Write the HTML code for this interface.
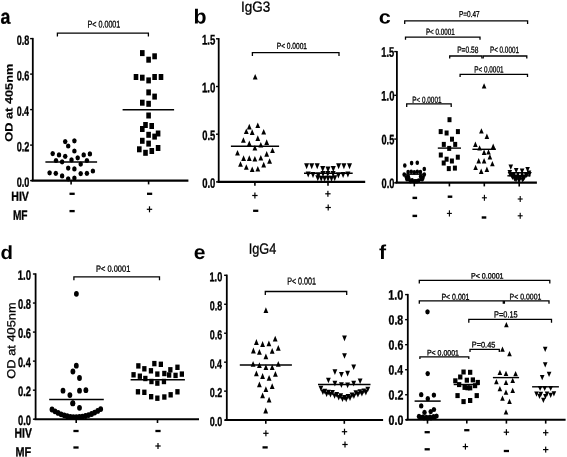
<!DOCTYPE html>
<html><head><meta charset="utf-8"><style>
html,body{margin:0;padding:0;background:#fff;}
svg{display:block;will-change:transform;}
text{font-family:"Liberation Sans", sans-serif;fill:#000;text-rendering:geometricPrecision;}
</style></head><body>
<svg width="567" height="457" viewBox="0 0 567 457">
<rect width="567" height="457" fill="#fff"/>
<g id="t0">
<text transform="translate(0.52,23.74) rotate(0.05) scale(0.8567,1.0000)" font-size="20.73" font-weight="bold" stroke="#000" stroke-width="0.3">a</text>
</g>
<g id="t1">
<text transform="translate(12.59,141.71) rotate(-89.95) scale(1.0000,0.8377)" font-size="12.78" font-weight="bold" stroke="#000" stroke-width="0.2">OD at 405nm</text>
</g>
<line x1="32.80" y1="37.90" x2="32.80" y2="180.60" stroke="#000" stroke-width="1.8" stroke-linecap="butt"/>
<line x1="30.10" y1="38.60" x2="32.80" y2="38.60" stroke="#000" stroke-width="1.4" stroke-linecap="butt"/>
<g id="t2">
<text transform="translate(16.71,44.64) rotate(0.05) scale(0.6731,1.0000)" font-size="13.45" font-weight="bold" stroke="#000" stroke-width="0.35">0.8</text>
</g>
<line x1="30.10" y1="74.10" x2="32.80" y2="74.10" stroke="#000" stroke-width="1.4" stroke-linecap="butt"/>
<g id="t3">
<text transform="translate(16.71,80.14) rotate(0.05) scale(0.6756,1.0000)" font-size="13.45" font-weight="bold" stroke="#000" stroke-width="0.35">0.6</text>
</g>
<line x1="30.10" y1="109.60" x2="32.80" y2="109.60" stroke="#000" stroke-width="1.4" stroke-linecap="butt"/>
<g id="t4">
<text transform="translate(16.72,115.64) rotate(0.05) scale(0.6605,1.0000)" font-size="13.45" font-weight="bold" stroke="#000" stroke-width="0.35">0.4</text>
</g>
<line x1="30.10" y1="145.10" x2="32.80" y2="145.10" stroke="#000" stroke-width="1.4" stroke-linecap="butt"/>
<g id="t5">
<text transform="translate(16.71,151.14) rotate(0.05) scale(0.6782,1.0000)" font-size="13.45" font-weight="bold" stroke="#000" stroke-width="0.35">0.2</text>
</g>
<line x1="30.10" y1="180.60" x2="32.80" y2="180.60" stroke="#000" stroke-width="1.4" stroke-linecap="butt"/>
<g id="t6">
<text transform="translate(16.71,186.64) rotate(0.05) scale(0.6782,1.0000)" font-size="13.45" font-weight="bold" stroke="#000" stroke-width="0.35">0.0</text>
</g>
<line x1="31.50" y1="180.60" x2="188.40" y2="180.60" stroke="#000" stroke-width="2.4" stroke-linecap="butt"/>
<line x1="71.10" y1="180.60" x2="71.10" y2="184.40" stroke="#000" stroke-width="1.6" stroke-linecap="butt"/>
<line x1="148.60" y1="180.60" x2="148.60" y2="184.40" stroke="#000" stroke-width="1.6" stroke-linecap="butt"/>
<g id="t7">
<text transform="translate(11.26,200.75) rotate(0.05) scale(0.8123,1.0000)" font-size="13.04" font-weight="bold" stroke="#000" stroke-width="0.3">HIV</text>
</g>
<g id="t8">
<text transform="translate(12.89,219.65) rotate(0.05) scale(0.7557,1.0000)" font-size="13.48" font-weight="bold" stroke="#000" stroke-width="0.3">MF</text>
</g>
<rect x="69.50" y="192.65" width="5.2" height="2.3"/>
<rect x="69.50" y="209.95" width="5.2" height="2.3"/>
<rect x="147.00" y="192.65" width="5.2" height="2.3"/>
<rect x="146.80" y="208.70" width="5.4" height="1.2"/>
<rect x="148.90" y="206.30" width="1.2" height="6.0"/>
<path d="M57.40,36.50 V33.20 H148.40 V36.50" fill="none" stroke="#000" stroke-width="1.3"/>
<g id="t9">
<text transform="translate(87.48,27.55) rotate(0.05) scale(0.7368,1.0000)" font-size="9.72" font-weight="normal" stroke="#000" stroke-width="0.3">P&lt; 0.0001</text>
</g>
<ellipse cx="65.2" cy="141.6" rx="2.25" ry="2.6"/>
<ellipse cx="74.4" cy="140.8" rx="2.25" ry="2.6"/>
<ellipse cx="68.2" cy="146.0" rx="2.25" ry="2.6"/>
<ellipse cx="74.4" cy="151.0" rx="2.25" ry="2.6"/>
<ellipse cx="52.7" cy="153.6" rx="2.25" ry="2.6"/>
<ellipse cx="59.0" cy="154.9" rx="2.25" ry="2.6"/>
<ellipse cx="65.2" cy="156.3" rx="2.25" ry="2.6"/>
<ellipse cx="83.7" cy="154.9" rx="2.25" ry="2.6"/>
<ellipse cx="89.9" cy="153.9" rx="2.25" ry="2.6"/>
<ellipse cx="56.0" cy="160.5" rx="2.25" ry="2.6"/>
<ellipse cx="62.1" cy="161.8" rx="2.25" ry="2.6"/>
<ellipse cx="71.5" cy="159.9" rx="2.25" ry="2.6"/>
<ellipse cx="77.7" cy="157.8" rx="2.25" ry="2.6"/>
<ellipse cx="80.7" cy="164.1" rx="2.25" ry="2.6"/>
<ellipse cx="86.9" cy="160.5" rx="2.25" ry="2.6"/>
<ellipse cx="68.2" cy="168.1" rx="2.25" ry="2.6"/>
<ellipse cx="74.4" cy="168.9" rx="2.25" ry="2.6"/>
<ellipse cx="49.6" cy="172.8" rx="2.25" ry="2.6"/>
<ellipse cx="55.8" cy="173.3" rx="2.25" ry="2.6"/>
<ellipse cx="62.1" cy="175.9" rx="2.25" ry="2.6"/>
<ellipse cx="80.7" cy="173.6" rx="2.25" ry="2.6"/>
<ellipse cx="86.9" cy="173.3" rx="2.25" ry="2.6"/>
<ellipse cx="92.9" cy="171.0" rx="2.25" ry="2.6"/>
<ellipse cx="68.2" cy="178.8" rx="2.25" ry="2.6"/>
<ellipse cx="74.4" cy="178.1" rx="2.25" ry="2.6"/>
<line x1="45.40" y1="162.10" x2="97.10" y2="162.10" stroke="#000" stroke-width="1.5" stroke-linecap="butt"/>
<rect x="140.0" y="50.1" width="4.6" height="6.0"/>
<rect x="146.3" y="56.7" width="4.6" height="6.0"/>
<rect x="152.3" y="53.3" width="4.6" height="6.0"/>
<rect x="133.7" y="74.0" width="4.6" height="6.0"/>
<rect x="140.0" y="74.7" width="4.6" height="6.0"/>
<rect x="146.3" y="77.4" width="4.6" height="6.0"/>
<rect x="152.3" y="74.0" width="4.6" height="6.0"/>
<rect x="158.7" y="74.0" width="4.6" height="6.0"/>
<rect x="146.3" y="89.4" width="4.6" height="6.0"/>
<rect x="152.3" y="93.6" width="4.6" height="6.0"/>
<rect x="140.0" y="99.7" width="4.6" height="6.0"/>
<rect x="146.3" y="100.8" width="4.6" height="6.0"/>
<rect x="146.3" y="112.5" width="4.6" height="6.0"/>
<rect x="143.2" y="122.0" width="4.6" height="6.0"/>
<rect x="149.4" y="123.0" width="4.6" height="6.0"/>
<rect x="140.0" y="126.0" width="4.6" height="6.0"/>
<rect x="146.3" y="131.8" width="4.6" height="6.0"/>
<rect x="152.3" y="133.6" width="4.6" height="6.0"/>
<rect x="155.8" y="130.5" width="4.6" height="6.0"/>
<rect x="140.0" y="137.8" width="4.6" height="6.0"/>
<rect x="146.3" y="140.6" width="4.6" height="6.0"/>
<rect x="137.0" y="146.3" width="4.6" height="6.0"/>
<rect x="143.2" y="149.8" width="4.6" height="6.0"/>
<rect x="149.5" y="148.0" width="4.6" height="6.0"/>
<rect x="155.8" y="145.0" width="4.6" height="6.0"/>
<line x1="122.60" y1="109.70" x2="174.10" y2="109.70" stroke="#000" stroke-width="1.5" stroke-linecap="butt"/>
<g id="t10">
<text transform="translate(193.61,23.40) rotate(0.05) scale(1.0479,1.0000)" font-size="20.41" font-weight="bold">b</text>
</g>
<g id="t11">
<text transform="translate(241.04,11.76) rotate(0.05) scale(0.9166,1.0000)" font-size="14.73" font-weight="normal" stroke="#000" stroke-width="0.3">IgG3</text>
</g>
<line x1="218.70" y1="38.10" x2="218.70" y2="181.90" stroke="#000" stroke-width="1.8" stroke-linecap="butt"/>
<line x1="216.00" y1="38.80" x2="218.70" y2="38.80" stroke="#000" stroke-width="1.4" stroke-linecap="butt"/>
<g id="t12">
<text transform="translate(201.95,44.54) rotate(0.05) scale(0.6876,1.0000)" font-size="13.93" font-weight="bold" stroke="#000" stroke-width="0.35">1.5</text>
</g>
<line x1="216.00" y1="86.50" x2="218.70" y2="86.50" stroke="#000" stroke-width="1.4" stroke-linecap="butt"/>
<g id="t13">
<text transform="translate(201.95,92.24) rotate(0.05) scale(0.7055,1.0000)" font-size="13.73" font-weight="bold" stroke="#000" stroke-width="0.35">1.0</text>
</g>
<line x1="216.00" y1="134.20" x2="218.70" y2="134.20" stroke="#000" stroke-width="1.4" stroke-linecap="butt"/>
<g id="t14">
<text transform="translate(202.20,139.94) rotate(0.05) scale(0.6842,1.0000)" font-size="13.73" font-weight="bold" stroke="#000" stroke-width="0.35">0.5</text>
</g>
<line x1="216.00" y1="181.90" x2="218.70" y2="181.90" stroke="#000" stroke-width="1.4" stroke-linecap="butt"/>
<g id="t15">
<text transform="translate(202.19,187.64) rotate(0.05) scale(0.6921,1.0000)" font-size="13.73" font-weight="bold" stroke="#000" stroke-width="0.35">0.0</text>
</g>
<line x1="217.50" y1="181.90" x2="365.20" y2="181.90" stroke="#000" stroke-width="2.1" stroke-linecap="butt"/>
<line x1="254.90" y1="181.90" x2="254.90" y2="185.70" stroke="#000" stroke-width="1.6" stroke-linecap="butt"/>
<line x1="328.00" y1="181.90" x2="328.00" y2="185.70" stroke="#000" stroke-width="1.6" stroke-linecap="butt"/>
<rect x="252.20" y="194.90" width="5.4" height="1.2"/>
<rect x="254.30" y="192.50" width="1.2" height="6.0"/>
<rect x="253.10" y="209.65" width="5.2" height="2.3"/>
<rect x="325.20" y="193.20" width="5.4" height="1.2"/>
<rect x="327.30" y="190.80" width="1.2" height="6.0"/>
<rect x="325.50" y="206.90" width="5.4" height="1.2"/>
<rect x="327.60" y="204.50" width="1.2" height="6.0"/>
<path d="M252.40,56.00 V52.60 H339.00 V56.00" fill="none" stroke="#000" stroke-width="1.3"/>
<g id="t16">
<text transform="translate(276.72,48.86) rotate(0.05) scale(0.7707,1.0000)" font-size="8.59" font-weight="normal" stroke="#000" stroke-width="0.3">P&lt; 0.0001</text>
</g>
<path d="M255.2,74.0 L257.6,79.6 L252.8,79.6Z"/>
<path d="M249.3,123.8 L251.7,129.4 L246.9,129.4Z"/>
<path d="M257.8,122.5 L260.2,128.1 L255.4,128.1Z"/>
<path d="M246.3,128.4 L248.7,134.0 L243.9,134.0Z"/>
<path d="M252.2,129.3 L254.6,134.9 L249.8,134.9Z"/>
<path d="M263.7,129.0 L266.1,134.6 L261.3,134.6Z"/>
<path d="M243.4,137.2 L245.8,142.8 L241.0,142.8Z"/>
<path d="M257.8,135.3 L260.2,140.9 L255.4,140.9Z"/>
<path d="M249.3,140.6 L251.7,146.2 L246.9,146.2Z"/>
<path d="M266.7,139.3 L269.1,144.9 L264.3,144.9Z"/>
<path d="M254.9,145.0 L257.3,150.6 L252.5,150.6Z"/>
<path d="M260.8,141.9 L263.2,147.5 L258.4,147.5Z"/>
<path d="M272.5,147.4 L274.9,153.0 L270.1,153.0Z"/>
<path d="M237.5,150.0 L239.9,155.6 L235.1,155.6Z"/>
<path d="M266.7,151.1 L269.1,156.7 L264.3,156.7Z"/>
<path d="M243.6,155.3 L246.0,160.9 L241.2,160.9Z"/>
<path d="M249.3,155.3 L251.7,160.9 L246.9,160.9Z"/>
<path d="M254.9,155.9 L257.3,161.5 L252.5,161.5Z"/>
<path d="M260.8,155.0 L263.2,160.6 L258.4,160.6Z"/>
<path d="M269.6,158.2 L272.0,163.8 L267.2,163.8Z"/>
<path d="M240.5,161.2 L242.9,166.8 L238.1,166.8Z"/>
<path d="M246.3,164.2 L248.7,169.8 L243.9,169.8Z"/>
<path d="M263.7,161.8 L266.1,167.4 L261.3,167.4Z"/>
<path d="M252.2,166.4 L254.6,172.0 L249.8,172.0Z"/>
<path d="M257.8,166.0 L260.2,171.6 L255.4,171.6Z"/>
<line x1="230.90" y1="146.30" x2="279.10" y2="146.30" stroke="#000" stroke-width="1.5" stroke-linecap="butt"/>
<path d="M306.6,169.2 L309.1,163.2 L304.1,163.2Z"/>
<path d="M311.7,169.2 L314.2,163.2 L309.2,163.2Z"/>
<path d="M317.2,169.2 L319.7,163.2 L314.7,163.2Z"/>
<path d="M322.7,172.0 L325.2,166.0 L320.2,166.0Z"/>
<path d="M328.0,172.5 L330.5,166.5 L325.5,166.5Z"/>
<path d="M333.3,172.0 L335.8,166.0 L330.8,166.0Z"/>
<path d="M338.6,169.2 L341.1,163.2 L336.1,163.2Z"/>
<path d="M343.9,169.2 L346.4,163.2 L341.4,163.2Z"/>
<path d="M349.5,169.2 L352.0,163.2 L347.0,163.2Z"/>
<path d="M308.2,177.4 L310.7,171.4 L305.7,171.4Z"/>
<path d="M313.0,178.0 L315.5,172.0 L310.5,172.0Z"/>
<path d="M318.3,178.5 L320.8,172.5 L315.8,172.5Z"/>
<path d="M323.0,177.0 L325.5,171.0 L320.5,171.0Z"/>
<path d="M327.8,177.0 L330.3,171.0 L325.3,171.0Z"/>
<path d="M333.1,177.0 L335.6,171.0 L330.6,171.0Z"/>
<path d="M338.4,178.5 L340.9,172.5 L335.9,172.5Z"/>
<path d="M343.1,178.0 L345.6,172.0 L340.6,172.0Z"/>
<path d="M347.9,177.4 L350.4,171.4 L345.4,171.4Z"/>
<path d="M317.8,181.3 L320.3,175.3 L315.3,175.3Z"/>
<path d="M321.2,181.8 L323.7,175.8 L318.7,175.8Z"/>
<path d="M324.6,181.8 L327.1,175.8 L322.1,175.8Z"/>
<path d="M328.0,181.8 L330.5,175.8 L325.5,175.8Z"/>
<path d="M331.5,181.8 L334.0,175.8 L329.0,175.8Z"/>
<path d="M334.7,181.3 L337.2,175.3 L332.2,175.3Z"/>
<line x1="304.00" y1="173.20" x2="352.70" y2="173.20" stroke="#000" stroke-width="1.5" stroke-linecap="butt"/>
<g id="t17">
<text transform="translate(378.63,23.41) rotate(0.05) scale(1.1449,1.0000)" font-size="18.91" font-weight="bold">c</text>
</g>
<line x1="396.90" y1="50.90" x2="396.90" y2="182.80" stroke="#000" stroke-width="1.8" stroke-linecap="butt"/>
<line x1="394.20" y1="51.60" x2="396.90" y2="51.60" stroke="#000" stroke-width="1.4" stroke-linecap="butt"/>
<g id="t18">
<text transform="translate(381.27,56.84) rotate(0.05) scale(0.6710,1.0000)" font-size="13.93" font-weight="bold" stroke="#000" stroke-width="0.35">1.5</text>
</g>
<line x1="394.20" y1="95.33" x2="396.90" y2="95.33" stroke="#000" stroke-width="1.4" stroke-linecap="butt"/>
<g id="t19">
<text transform="translate(381.26,100.57) rotate(0.05) scale(0.6885,1.0000)" font-size="13.73" font-weight="bold" stroke="#000" stroke-width="0.35">1.0</text>
</g>
<line x1="394.20" y1="139.06" x2="396.90" y2="139.06" stroke="#000" stroke-width="1.4" stroke-linecap="butt"/>
<g id="t20">
<text transform="translate(381.51,144.30) rotate(0.05) scale(0.6678,1.0000)" font-size="13.73" font-weight="bold" stroke="#000" stroke-width="0.35">0.5</text>
</g>
<line x1="394.20" y1="182.79" x2="396.90" y2="182.79" stroke="#000" stroke-width="1.4" stroke-linecap="butt"/>
<g id="t21">
<text transform="translate(381.50,188.03) rotate(0.05) scale(0.6754,1.0000)" font-size="13.73" font-weight="bold" stroke="#000" stroke-width="0.35">0.0</text>
</g>
<line x1="395.50" y1="182.60" x2="536.90" y2="182.60" stroke="#000" stroke-width="2.1" stroke-linecap="butt"/>
<line x1="414.30" y1="182.60" x2="414.30" y2="186.40" stroke="#000" stroke-width="1.6" stroke-linecap="butt"/>
<line x1="449.40" y1="182.60" x2="449.40" y2="186.40" stroke="#000" stroke-width="1.6" stroke-linecap="butt"/>
<line x1="484.30" y1="182.60" x2="484.30" y2="186.40" stroke="#000" stroke-width="1.6" stroke-linecap="butt"/>
<line x1="519.20" y1="182.60" x2="519.20" y2="186.40" stroke="#000" stroke-width="1.6" stroke-linecap="butt"/>
<rect x="412.50" y="196.70" width="4.6" height="2.4"/>
<rect x="447.70" y="195.50" width="4.6" height="2.4"/>
<rect x="481.90" y="197.25" width="5" height="1.1"/>
<rect x="483.85" y="194.80" width="1.1" height="6"/>
<rect x="517.70" y="198.45" width="5" height="1.1"/>
<rect x="519.65" y="196.00" width="1.1" height="6"/>
<rect x="412.50" y="214.70" width="4.6" height="2.4"/>
<rect x="446.90" y="212.85" width="5" height="1.1"/>
<rect x="448.85" y="210.30" width="1.1" height="6.2"/>
<rect x="481.70" y="216.30" width="4.6" height="2.4"/>
<rect x="517.70" y="215.25" width="5" height="1.1"/>
<rect x="519.65" y="212.80" width="1.1" height="6"/>
<path d="M404.70,24.00 V20.90 H527.60 V24.00" fill="none" stroke="#000" stroke-width="1.3"/>
<g id="t22">
<text transform="translate(459.03,17.06) rotate(0.05) scale(0.7519,1.0000)" font-size="8.59" font-weight="normal" stroke="#000" stroke-width="0.3">P=0.47</text>
</g>
<path d="M405.50,39.70 V37.20 H480.00 V39.70" fill="none" stroke="#000" stroke-width="1.3"/>
<g id="t23">
<text transform="translate(425.95,34.76) rotate(0.05) scale(0.7172,1.0000)" font-size="8.73" font-weight="normal" stroke="#000" stroke-width="0.3">P&lt; 0.0001</text>
</g>
<path d="M449.70,58.40 V56.00 H481.90 V58.40" fill="none" stroke="#000" stroke-width="1.3"/>
<g id="t24">
<text transform="translate(457.22,52.86) rotate(0.05) scale(0.7324,1.0000)" font-size="9.01" font-weight="normal" stroke="#000" stroke-width="0.3">P=0.58</text>
</g>
<path d="M483.20,58.40 V56.00 H526.80 V58.40" fill="none" stroke="#000" stroke-width="1.3"/>
<g id="t25">
<text transform="translate(489.94,52.86) rotate(0.05) scale(0.7022,1.0000)" font-size="9.01" font-weight="normal" stroke="#000" stroke-width="0.3">P&lt; 0.0001</text>
</g>
<path d="M460.10,76.90 V74.30 H527.50 V76.90" fill="none" stroke="#000" stroke-width="1.3"/>
<g id="t26">
<text transform="translate(474.34,72.46) rotate(0.05) scale(0.7047,1.0000)" font-size="9.01" font-weight="normal" stroke="#000" stroke-width="0.3">P&lt; 0.0001</text>
</g>
<path d="M406.70,107.00 V103.80 H451.20 V107.00" fill="none" stroke="#000" stroke-width="1.3"/>
<g id="t27">
<text transform="translate(412.34,102.66) rotate(0.05) scale(0.7275,1.0000)" font-size="8.73" font-weight="normal" stroke="#000" stroke-width="0.3">P&lt; 0.0001</text>
</g>
<ellipse cx="404.8" cy="165.5" rx="1.8" ry="2.3"/>
<ellipse cx="411.6" cy="163.1" rx="1.8" ry="2.3"/>
<ellipse cx="417.3" cy="162.7" rx="1.8" ry="2.3"/>
<ellipse cx="424.3" cy="169.0" rx="1.8" ry="2.3"/>
<ellipse cx="408.1" cy="172.0" rx="1.8" ry="2.3"/>
<ellipse cx="411.2" cy="171.8" rx="1.8" ry="2.3"/>
<ellipse cx="414.3" cy="172.2" rx="1.8" ry="2.3"/>
<ellipse cx="417.3" cy="171.8" rx="1.8" ry="2.3"/>
<ellipse cx="420.4" cy="172.0" rx="1.8" ry="2.3"/>
<ellipse cx="404.2" cy="174.6" rx="1.8" ry="2.3"/>
<ellipse cx="406.4" cy="177.2" rx="1.8" ry="2.3"/>
<ellipse cx="424.3" cy="174.6" rx="1.8" ry="2.3"/>
<ellipse cx="423.0" cy="177.4" rx="1.8" ry="2.3"/>
<ellipse cx="409.0" cy="179.0" rx="1.8" ry="2.3"/>
<ellipse cx="412.1" cy="180.4" rx="1.8" ry="2.3"/>
<ellipse cx="415.6" cy="181.2" rx="1.8" ry="2.3"/>
<ellipse cx="418.6" cy="180.6" rx="1.8" ry="2.3"/>
<ellipse cx="421.2" cy="179.0" rx="1.8" ry="2.3"/>
<ellipse cx="414.1" cy="181.3" rx="1.8" ry="2.3"/>
<ellipse cx="408.3" cy="176.6" rx="1.8" ry="2.3"/>
<ellipse cx="420.6" cy="176.6" rx="1.8" ry="2.3"/>
<ellipse cx="407.0" cy="179.3" rx="1.8" ry="2.3"/>
<ellipse cx="422.3" cy="179.3" rx="1.8" ry="2.3"/>
<ellipse cx="410.5" cy="181.3" rx="1.8" ry="2.3"/>
<ellipse cx="417.0" cy="181.3" rx="1.8" ry="2.3"/>
<line x1="403.00" y1="174.20" x2="425.50" y2="174.20" stroke="#000" stroke-width="1.4" stroke-linecap="butt"/>
<rect x="447.5" y="117.2" width="4.0" height="5.0"/>
<rect x="438.7" y="129.1" width="4.0" height="5.0"/>
<rect x="444.6" y="130.5" width="4.0" height="5.0"/>
<rect x="455.9" y="129.1" width="4.0" height="5.0"/>
<rect x="450.0" y="136.7" width="4.0" height="5.0"/>
<rect x="441.8" y="141.9" width="4.0" height="5.0"/>
<rect x="453.2" y="141.9" width="4.0" height="5.0"/>
<rect x="447.2" y="145.9" width="4.0" height="5.0"/>
<rect x="438.8" y="152.5" width="4.0" height="5.0"/>
<rect x="444.6" y="156.7" width="4.0" height="5.0"/>
<rect x="455.8" y="154.7" width="4.0" height="5.0"/>
<rect x="441.7" y="160.5" width="4.0" height="5.0"/>
<rect x="449.9" y="158.5" width="4.0" height="5.0"/>
<rect x="446.8" y="166.1" width="4.0" height="5.0"/>
<rect x="452.9" y="165.6" width="4.0" height="5.0"/>
<line x1="437.80" y1="148.10" x2="461.00" y2="148.10" stroke="#000" stroke-width="1.4" stroke-linecap="butt"/>
<path d="M484.1,83.2 L486.4,88.6 L481.8,88.6Z"/>
<path d="M481.4,128.2 L483.7,133.6 L479.1,133.6Z"/>
<path d="M486.9,133.5 L489.2,138.9 L484.6,138.9Z"/>
<path d="M475.4,141.6 L477.7,147.0 L473.1,147.0Z"/>
<path d="M493.2,143.6 L495.5,149.0 L490.9,149.0Z"/>
<path d="M479.6,145.2 L481.9,150.6 L477.3,150.6Z"/>
<path d="M484.1,149.6 L486.4,155.0 L481.8,155.0Z"/>
<path d="M488.5,149.2 L490.8,154.6 L486.2,154.6Z"/>
<path d="M489.9,154.0 L492.2,159.4 L487.6,159.4Z"/>
<path d="M478.7,158.0 L481.0,163.4 L476.4,163.4Z"/>
<path d="M484.1,158.1 L486.4,163.5 L481.8,163.5Z"/>
<path d="M492.4,160.9 L494.7,166.3 L490.1,166.3Z"/>
<path d="M475.6,164.7 L477.9,170.1 L473.3,170.1Z"/>
<path d="M481.2,168.6 L483.5,174.0 L478.9,174.0Z"/>
<path d="M486.9,166.6 L489.2,172.0 L484.6,172.0Z"/>
<line x1="472.40" y1="149.30" x2="495.90" y2="149.30" stroke="#000" stroke-width="1.4" stroke-linecap="butt"/>
<path d="M510.8,169.8 L513.1,164.6 L508.5,164.6Z"/>
<path d="M516.2,173.3 L518.5,168.1 L513.9,168.1Z"/>
<path d="M522.1,173.8 L524.4,168.6 L519.8,168.6Z"/>
<path d="M527.6,172.3 L529.9,167.1 L525.3,167.1Z"/>
<path d="M509.8,175.2 L512.1,170.0 L507.5,170.0Z"/>
<path d="M529.0,175.6 L531.3,170.4 L526.7,170.4Z"/>
<path d="M511.5,178.1 L513.8,172.9 L509.2,172.9Z"/>
<path d="M515.0,179.6 L517.3,174.4 L512.7,174.4Z"/>
<path d="M519.0,180.4 L521.3,175.2 L516.7,175.2Z"/>
<path d="M523.0,179.6 L525.3,174.4 L520.7,174.4Z"/>
<path d="M526.5,178.1 L528.8,172.9 L524.2,172.9Z"/>
<path d="M514.5,181.6 L516.8,176.4 L512.2,176.4Z"/>
<path d="M519.0,182.1 L521.3,176.9 L516.7,176.9Z"/>
<path d="M523.5,181.6 L525.8,176.4 L521.2,176.4Z"/>
<path d="M519.0,183.6 L521.3,178.4 L516.7,178.4Z"/>
<path d="M510.0,177.1 L512.3,171.9 L507.7,171.9Z"/>
<path d="M514.0,177.1 L516.3,171.9 L511.7,171.9Z"/>
<path d="M518.0,177.1 L520.3,171.9 L515.7,171.9Z"/>
<path d="M522.0,177.1 L524.3,171.9 L519.7,171.9Z"/>
<path d="M526.0,177.1 L528.3,171.9 L523.7,171.9Z"/>
<path d="M529.5,177.1 L531.8,171.9 L527.2,171.9Z"/>
<path d="M512.5,180.1 L514.8,174.9 L510.2,174.9Z"/>
<path d="M516.5,180.1 L518.8,174.9 L514.2,174.9Z"/>
<path d="M520.5,180.1 L522.8,174.9 L518.2,174.9Z"/>
<path d="M524.5,180.1 L526.8,174.9 L522.2,174.9Z"/>
<path d="M516.0,182.6 L518.3,177.4 L513.7,177.4Z"/>
<path d="M522.5,182.6 L524.8,177.4 L520.2,177.4Z"/>
<line x1="507.40" y1="175.80" x2="530.50" y2="175.80" stroke="#000" stroke-width="1.4" stroke-linecap="butt"/>
<g id="t28">
<text transform="translate(0.48,258.91) rotate(0.05) scale(1.0785,1.0000)" font-size="18.91" font-weight="bold">d</text>
</g>
<g id="t29">
<text transform="translate(15.33,378.63) rotate(-89.95) scale(1.0000,0.9119)" font-size="12.82" font-weight="normal" stroke="#000" stroke-width="0.3">OD at 405nm</text>
</g>
<line x1="35.60" y1="273.30" x2="35.60" y2="419.20" stroke="#000" stroke-width="1.8" stroke-linecap="butt"/>
<line x1="32.90" y1="274.00" x2="35.60" y2="274.00" stroke="#000" stroke-width="1.4" stroke-linecap="butt"/>
<g id="t30">
<text transform="translate(17.75,279.79) rotate(0.05) scale(0.7071,1.0000)" font-size="13.59" font-weight="bold" stroke="#000" stroke-width="0.35">1.0</text>
</g>
<line x1="32.90" y1="303.04" x2="35.60" y2="303.04" stroke="#000" stroke-width="1.4" stroke-linecap="butt"/>
<g id="t31">
<text transform="translate(18.00,308.83) rotate(0.05) scale(0.6884,1.0000)" font-size="13.59" font-weight="bold" stroke="#000" stroke-width="0.35">0.8</text>
</g>
<line x1="32.90" y1="332.08" x2="35.60" y2="332.08" stroke="#000" stroke-width="1.4" stroke-linecap="butt"/>
<g id="t32">
<text transform="translate(18.00,337.87) rotate(0.05) scale(0.6910,1.0000)" font-size="13.59" font-weight="bold" stroke="#000" stroke-width="0.35">0.6</text>
</g>
<line x1="32.90" y1="361.12" x2="35.60" y2="361.12" stroke="#000" stroke-width="1.4" stroke-linecap="butt"/>
<g id="t33">
<text transform="translate(18.01,366.91) rotate(0.05) scale(0.6756,1.0000)" font-size="13.59" font-weight="bold" stroke="#000" stroke-width="0.35">0.4</text>
</g>
<line x1="32.90" y1="390.16" x2="35.60" y2="390.16" stroke="#000" stroke-width="1.4" stroke-linecap="butt"/>
<g id="t34">
<text transform="translate(18.00,395.95) rotate(0.05) scale(0.6936,1.0000)" font-size="13.59" font-weight="bold" stroke="#000" stroke-width="0.35">0.2</text>
</g>
<line x1="32.90" y1="419.20" x2="35.60" y2="419.20" stroke="#000" stroke-width="1.4" stroke-linecap="butt"/>
<g id="t35">
<text transform="translate(18.00,424.99) rotate(0.05) scale(0.6936,1.0000)" font-size="13.59" font-weight="bold" stroke="#000" stroke-width="0.35">0.0</text>
</g>
<line x1="34.50" y1="419.20" x2="199.00" y2="419.20" stroke="#000" stroke-width="2.1" stroke-linecap="butt"/>
<line x1="76.20" y1="419.20" x2="76.20" y2="423.00" stroke="#000" stroke-width="1.6" stroke-linecap="butt"/>
<line x1="157.50" y1="419.20" x2="157.50" y2="423.00" stroke="#000" stroke-width="1.6" stroke-linecap="butt"/>
<g id="t36">
<text transform="translate(14.57,437.55) rotate(0.05) scale(0.7640,1.0000)" font-size="13.62" font-weight="bold" stroke="#000" stroke-width="0.3">HIV</text>
</g>
<g id="t37">
<text transform="translate(15.54,456.15) rotate(0.05) scale(0.8322,1.0000)" font-size="13.04" font-weight="bold" stroke="#000" stroke-width="0.3">MF</text>
</g>
<rect x="73.40" y="429.85" width="5.2" height="2.3"/>
<rect x="73.40" y="446.35" width="5.2" height="2.3"/>
<rect x="155.40" y="429.85" width="5.2" height="2.3"/>
<rect x="155.30" y="445.40" width="5.4" height="1.2"/>
<rect x="157.40" y="443.00" width="1.2" height="6.0"/>
<path d="M73.90,280.20 V276.80 H159.50 V280.20" fill="none" stroke="#000" stroke-width="1.3"/>
<g id="t38">
<text transform="translate(96.05,271.76) rotate(0.05) scale(0.8292,1.0000)" font-size="9.01" font-weight="normal" stroke="#000" stroke-width="0.3">P&lt; 0.0001</text>
</g>
<ellipse cx="76.4" cy="293.8" rx="2.4" ry="2.9"/>
<ellipse cx="76.3" cy="365.7" rx="2.4" ry="2.9"/>
<ellipse cx="72.9" cy="371.5" rx="2.4" ry="2.9"/>
<ellipse cx="79.5" cy="378.0" rx="2.4" ry="2.9"/>
<ellipse cx="63.0" cy="390.7" rx="2.4" ry="2.9"/>
<ellipse cx="69.9" cy="395.1" rx="2.4" ry="2.9"/>
<ellipse cx="79.5" cy="390.7" rx="2.4" ry="2.9"/>
<ellipse cx="85.9" cy="390.2" rx="2.4" ry="2.9"/>
<ellipse cx="72.9" cy="403.2" rx="2.4" ry="2.9"/>
<ellipse cx="79.5" cy="407.8" rx="2.4" ry="2.9"/>
<ellipse cx="72.7" cy="403.4" rx="2.4" ry="2.9"/>
<ellipse cx="52.0" cy="409.5" rx="2.4" ry="2.9"/>
<ellipse cx="55.0" cy="411.3" rx="2.4" ry="2.9"/>
<ellipse cx="58.1" cy="412.9" rx="2.4" ry="2.9"/>
<ellipse cx="61.1" cy="414.3" rx="2.4" ry="2.9"/>
<ellipse cx="64.2" cy="415.3" rx="2.4" ry="2.9"/>
<ellipse cx="67.2" cy="416.2" rx="2.4" ry="2.9"/>
<ellipse cx="70.3" cy="416.8" rx="2.4" ry="2.9"/>
<ellipse cx="73.3" cy="417.1" rx="2.4" ry="2.9"/>
<ellipse cx="76.3" cy="417.2" rx="2.4" ry="2.9"/>
<ellipse cx="79.4" cy="417.0" rx="2.4" ry="2.9"/>
<ellipse cx="82.4" cy="416.6" rx="2.4" ry="2.9"/>
<ellipse cx="85.5" cy="416.0" rx="2.4" ry="2.9"/>
<ellipse cx="88.5" cy="415.1" rx="2.4" ry="2.9"/>
<ellipse cx="91.6" cy="414.0" rx="2.4" ry="2.9"/>
<ellipse cx="94.6" cy="412.6" rx="2.4" ry="2.9"/>
<ellipse cx="97.7" cy="410.9" rx="2.4" ry="2.9"/>
<ellipse cx="100.7" cy="409.1" rx="2.4" ry="2.9"/>
<line x1="49.20" y1="399.60" x2="103.80" y2="399.60" stroke="#000" stroke-width="1.5" stroke-linecap="butt"/>
<rect x="136.2" y="363.2" width="4.3" height="5.4"/>
<rect x="142.2" y="366.1" width="4.3" height="5.4"/>
<rect x="152.2" y="360.9" width="4.3" height="5.4"/>
<rect x="158.7" y="361.6" width="4.3" height="5.4"/>
<rect x="148.8" y="368.1" width="4.3" height="5.4"/>
<rect x="168.2" y="367.1" width="4.3" height="5.4"/>
<rect x="175.3" y="364.6" width="4.3" height="5.4"/>
<rect x="131.4" y="372.1" width="4.3" height="5.4"/>
<rect x="137.7" y="373.5" width="4.3" height="5.4"/>
<rect x="143.2" y="375.8" width="4.3" height="5.4"/>
<rect x="155.2" y="371.4" width="4.3" height="5.4"/>
<rect x="162.2" y="370.8" width="4.3" height="5.4"/>
<rect x="167.0" y="372.3" width="4.3" height="5.4"/>
<rect x="173.4" y="372.7" width="4.3" height="5.4"/>
<rect x="179.7" y="371.4" width="4.3" height="5.4"/>
<rect x="149.3" y="378.8" width="4.3" height="5.4"/>
<rect x="155.2" y="380.4" width="4.3" height="5.4"/>
<rect x="161.8" y="378.8" width="4.3" height="5.4"/>
<rect x="135.8" y="389.1" width="4.3" height="5.4"/>
<rect x="142.2" y="389.6" width="4.3" height="5.4"/>
<rect x="149.0" y="394.0" width="4.3" height="5.4"/>
<rect x="155.2" y="395.5" width="4.3" height="5.4"/>
<rect x="162.2" y="394.3" width="4.3" height="5.4"/>
<rect x="168.5" y="392.1" width="4.3" height="5.4"/>
<rect x="175.3" y="389.1" width="4.3" height="5.4"/>
<line x1="130.60" y1="379.70" x2="184.90" y2="379.70" stroke="#000" stroke-width="1.5" stroke-linecap="butt"/>
<g id="t39">
<text transform="translate(193.76,259.10) rotate(0.05) scale(1.0426,1.0000)" font-size="20.18" font-weight="bold">e</text>
</g>
<g id="t40">
<text transform="translate(248.71,253.71) rotate(0.05) scale(0.8507,1.0000)" font-size="14.95" font-weight="normal" stroke="#000" stroke-width="0.3">IgG4</text>
</g>
<line x1="226.80" y1="274.60" x2="226.80" y2="420.10" stroke="#000" stroke-width="1.8" stroke-linecap="butt"/>
<line x1="224.10" y1="275.30" x2="226.80" y2="275.30" stroke="#000" stroke-width="1.4" stroke-linecap="butt"/>
<g id="t41">
<text transform="translate(209.48,281.25) rotate(0.05) scale(0.7156,1.0000)" font-size="12.89" font-weight="bold" stroke="#000" stroke-width="0.35">1.0</text>
</g>
<line x1="224.10" y1="304.26" x2="226.80" y2="304.26" stroke="#000" stroke-width="1.4" stroke-linecap="butt"/>
<g id="t42">
<text transform="translate(209.72,310.21) rotate(0.05) scale(0.6966,1.0000)" font-size="12.89" font-weight="bold" stroke="#000" stroke-width="0.35">0.8</text>
</g>
<line x1="224.10" y1="333.22" x2="226.80" y2="333.22" stroke="#000" stroke-width="1.4" stroke-linecap="butt"/>
<g id="t43">
<text transform="translate(209.71,339.17) rotate(0.05) scale(0.6992,1.0000)" font-size="12.89" font-weight="bold" stroke="#000" stroke-width="0.35">0.6</text>
</g>
<line x1="224.10" y1="362.18" x2="226.80" y2="362.18" stroke="#000" stroke-width="1.4" stroke-linecap="butt"/>
<g id="t44">
<text transform="translate(209.72,368.13) rotate(0.05) scale(0.6836,1.0000)" font-size="12.89" font-weight="bold" stroke="#000" stroke-width="0.35">0.4</text>
</g>
<line x1="224.10" y1="391.14" x2="226.80" y2="391.14" stroke="#000" stroke-width="1.4" stroke-linecap="butt"/>
<g id="t45">
<text transform="translate(209.71,397.09) rotate(0.05) scale(0.7019,1.0000)" font-size="12.89" font-weight="bold" stroke="#000" stroke-width="0.35">0.2</text>
</g>
<line x1="224.10" y1="420.10" x2="226.80" y2="420.10" stroke="#000" stroke-width="1.4" stroke-linecap="butt"/>
<g id="t46">
<text transform="translate(209.71,426.05) rotate(0.05) scale(0.7019,1.0000)" font-size="12.89" font-weight="bold" stroke="#000" stroke-width="0.35">0.0</text>
</g>
<line x1="225.00" y1="420.00" x2="383.10" y2="420.00" stroke="#000" stroke-width="2.1" stroke-linecap="butt"/>
<line x1="265.80" y1="420.00" x2="265.80" y2="423.80" stroke="#000" stroke-width="1.6" stroke-linecap="butt"/>
<line x1="344.30" y1="420.00" x2="344.30" y2="423.80" stroke="#000" stroke-width="1.6" stroke-linecap="butt"/>
<rect x="263.20" y="432.70" width="5.4" height="1.2"/>
<rect x="265.30" y="430.30" width="1.2" height="6.0"/>
<rect x="341.80" y="431.10" width="5.4" height="1.2"/>
<rect x="343.90" y="428.70" width="1.2" height="6.0"/>
<rect x="262.50" y="446.25" width="5.2" height="2.3"/>
<rect x="342.30" y="443.90" width="5.4" height="1.2"/>
<rect x="344.40" y="441.50" width="1.2" height="6.0"/>
<path d="M265.30,295.00 V291.50 H346.70 V295.00" fill="none" stroke="#000" stroke-width="1.3"/>
<g id="t47">
<text transform="translate(287.18,284.55) rotate(0.05) scale(0.7154,1.0000)" font-size="10.00" font-weight="normal" stroke="#000" stroke-width="0.3">P&lt; 0.001</text>
</g>
<path d="M265.9,307.3 L268.3,313.1 L263.5,313.1Z"/>
<path d="M256.4,339.1 L258.8,344.9 L254.0,344.9Z"/>
<path d="M262.6,341.1 L265.0,346.9 L260.2,346.9Z"/>
<path d="M268.9,340.4 L271.3,346.2 L266.5,346.2Z"/>
<path d="M275.2,335.8 L277.6,341.6 L272.8,341.6Z"/>
<path d="M253.4,347.6 L255.8,353.4 L251.0,353.4Z"/>
<path d="M259.4,349.0 L261.8,354.8 L257.0,354.8Z"/>
<path d="M272.2,348.0 L274.6,353.8 L269.8,353.8Z"/>
<path d="M278.3,345.0 L280.7,350.8 L275.9,350.8Z"/>
<path d="M265.9,353.4 L268.3,359.2 L263.5,359.2Z"/>
<path d="M253.1,360.9 L255.5,366.7 L250.7,366.7Z"/>
<path d="M259.4,362.2 L261.8,368.0 L257.0,368.0Z"/>
<path d="M265.9,364.2 L268.3,370.0 L263.5,370.0Z"/>
<path d="M272.2,364.2 L274.6,370.0 L269.8,370.0Z"/>
<path d="M278.3,360.9 L280.7,366.7 L275.9,366.7Z"/>
<path d="M256.4,370.5 L258.8,376.3 L254.0,376.3Z"/>
<path d="M262.6,373.1 L265.0,378.9 L260.2,378.9Z"/>
<path d="M269.1,374.9 L271.5,380.7 L266.7,380.7Z"/>
<path d="M275.4,371.0 L277.8,376.8 L273.0,376.8Z"/>
<path d="M259.4,381.5 L261.8,387.3 L257.0,387.3Z"/>
<path d="M265.9,386.2 L268.3,392.0 L263.5,392.0Z"/>
<path d="M272.2,383.2 L274.6,389.0 L269.8,389.0Z"/>
<path d="M262.6,392.4 L265.0,398.2 L260.2,398.2Z"/>
<path d="M269.1,396.7 L271.5,402.5 L266.7,402.5Z"/>
<path d="M265.7,407.6 L268.1,413.4 L263.3,413.4Z"/>
<line x1="239.80" y1="364.90" x2="291.90" y2="364.90" stroke="#000" stroke-width="1.5" stroke-linecap="butt"/>
<path d="M344.5,341.2 L346.9,335.6 L342.1,335.6Z"/>
<path d="M344.5,358.8 L346.9,353.2 L342.1,353.2Z"/>
<path d="M353.7,370.0 L356.1,364.4 L351.3,364.4Z"/>
<path d="M334.9,374.9 L337.3,369.3 L332.5,369.3Z"/>
<path d="M341.4,377.5 L343.8,371.9 L339.0,371.9Z"/>
<path d="M347.6,376.4 L350.0,370.8 L345.2,370.8Z"/>
<path d="M328.4,383.3 L330.8,377.7 L326.0,377.7Z"/>
<path d="M360.1,384.1 L362.5,378.5 L357.7,378.5Z"/>
<path d="M334.9,386.4 L337.3,380.8 L332.5,380.8Z"/>
<path d="M341.4,387.9 L343.8,382.3 L339.0,382.3Z"/>
<path d="M347.6,388.2 L350.0,382.6 L345.2,382.6Z"/>
<path d="M353.7,386.4 L356.1,380.8 L351.3,380.8Z"/>
<path d="M320.9,391.3 L323.3,385.7 L318.5,385.7Z"/>
<path d="M324.8,394.3 L327.2,388.7 L322.4,388.7Z"/>
<path d="M328.5,395.3 L330.9,389.7 L326.1,389.7Z"/>
<path d="M332.5,395.6 L334.9,390.0 L330.1,390.0Z"/>
<path d="M336.7,397.6 L339.1,392.0 L334.3,392.0Z"/>
<path d="M340.7,398.9 L343.1,393.3 L338.3,393.3Z"/>
<path d="M344.4,400.6 L346.8,395.0 L342.0,395.0Z"/>
<path d="M348.0,399.5 L350.4,393.9 L345.6,393.9Z"/>
<path d="M352.0,398.0 L354.4,392.4 L349.6,392.4Z"/>
<path d="M355.9,395.8 L358.3,390.2 L353.5,390.2Z"/>
<path d="M359.9,394.9 L362.3,389.3 L357.5,389.3Z"/>
<path d="M363.9,394.0 L366.3,388.4 L361.5,388.4Z"/>
<path d="M367.8,392.3 L370.2,386.7 L365.4,386.7Z"/>
<path d="M322.9,395.0 L325.2,389.4 L320.5,389.4Z"/>
<path d="M326.6,397.0 L329.0,391.4 L324.2,391.4Z"/>
<path d="M330.5,397.6 L332.9,392.0 L328.1,392.0Z"/>
<path d="M334.6,398.8 L337.0,393.2 L332.2,393.2Z"/>
<path d="M338.7,400.5 L341.1,394.9 L336.3,394.9Z"/>
<path d="M342.5,402.0 L344.9,396.4 L340.1,396.4Z"/>
<path d="M346.2,402.2 L348.6,396.6 L343.8,396.6Z"/>
<path d="M350.0,400.9 L352.4,395.3 L347.6,395.3Z"/>
<path d="M353.9,399.1 L356.3,393.5 L351.6,393.5Z"/>
<path d="M357.9,397.6 L360.3,391.9 L355.5,391.9Z"/>
<path d="M361.9,396.6 L364.3,391.0 L359.5,391.0Z"/>
<path d="M365.9,395.4 L368.2,389.8 L363.5,389.8Z"/>
<line x1="318.00" y1="384.50" x2="370.50" y2="384.50" stroke="#000" stroke-width="1.5" stroke-linecap="butt"/>
<g id="t48">
<text transform="translate(378.88,258.90) rotate(0.05) scale(1.0552,1.0000)" font-size="20.14" font-weight="bold">f</text>
</g>
<line x1="407.80" y1="293.90" x2="407.80" y2="419.80" stroke="#000" stroke-width="1.8" stroke-linecap="butt"/>
<line x1="405.10" y1="294.60" x2="407.80" y2="294.60" stroke="#000" stroke-width="1.4" stroke-linecap="butt"/>
<g id="t49">
<text transform="translate(388.27,299.44) rotate(0.05) scale(0.8071,1.0000)" font-size="13.45" font-weight="bold" stroke="#000" stroke-width="0.35">1.0</text>
</g>
<line x1="405.10" y1="319.64" x2="407.80" y2="319.64" stroke="#000" stroke-width="1.4" stroke-linecap="butt"/>
<g id="t50">
<text transform="translate(388.55,324.48) rotate(0.05) scale(0.7857,1.0000)" font-size="13.45" font-weight="bold" stroke="#000" stroke-width="0.35">0.8</text>
</g>
<line x1="405.10" y1="344.68" x2="407.80" y2="344.68" stroke="#000" stroke-width="1.4" stroke-linecap="butt"/>
<g id="t51">
<text transform="translate(388.55,349.52) rotate(0.05) scale(0.7887,1.0000)" font-size="13.45" font-weight="bold" stroke="#000" stroke-width="0.35">0.6</text>
</g>
<line x1="405.10" y1="369.72" x2="407.80" y2="369.72" stroke="#000" stroke-width="1.4" stroke-linecap="butt"/>
<g id="t52">
<text transform="translate(388.56,374.56) rotate(0.05) scale(0.7711,1.0000)" font-size="13.45" font-weight="bold" stroke="#000" stroke-width="0.35">0.4</text>
</g>
<line x1="405.10" y1="394.76" x2="407.80" y2="394.76" stroke="#000" stroke-width="1.4" stroke-linecap="butt"/>
<g id="t53">
<text transform="translate(388.55,399.60) rotate(0.05) scale(0.7917,1.0000)" font-size="13.45" font-weight="bold" stroke="#000" stroke-width="0.35">0.2</text>
</g>
<line x1="405.10" y1="419.80" x2="407.80" y2="419.80" stroke="#000" stroke-width="1.4" stroke-linecap="butt"/>
<g id="t54">
<text transform="translate(388.55,424.64) rotate(0.05) scale(0.7917,1.0000)" font-size="13.45" font-weight="bold" stroke="#000" stroke-width="0.35">0.0</text>
</g>
<line x1="406.00" y1="419.80" x2="565.60" y2="419.80" stroke="#000" stroke-width="2.1" stroke-linecap="butt"/>
<line x1="427.50" y1="419.80" x2="427.50" y2="423.60" stroke="#000" stroke-width="1.6" stroke-linecap="butt"/>
<line x1="466.80" y1="419.80" x2="466.80" y2="423.60" stroke="#000" stroke-width="1.6" stroke-linecap="butt"/>
<line x1="506.40" y1="419.80" x2="506.40" y2="423.60" stroke="#000" stroke-width="1.6" stroke-linecap="butt"/>
<line x1="545.70" y1="419.80" x2="545.70" y2="423.60" stroke="#000" stroke-width="1.6" stroke-linecap="butt"/>
<rect x="424.60" y="431.05" width="5.2" height="2.3"/>
<rect x="464.20" y="429.05" width="5.2" height="2.3"/>
<rect x="503.70" y="431.60" width="5.4" height="1.2"/>
<rect x="505.80" y="429.20" width="1.2" height="6.0"/>
<rect x="543.00" y="432.10" width="5.4" height="1.2"/>
<rect x="545.10" y="429.70" width="1.2" height="6.0"/>
<rect x="424.60" y="448.15" width="5.2" height="2.3"/>
<rect x="462.70" y="446.00" width="5.4" height="1.2"/>
<rect x="464.80" y="443.60" width="1.2" height="6.0"/>
<rect x="503.80" y="449.85" width="5.2" height="2.3"/>
<rect x="543.00" y="449.00" width="5.4" height="1.2"/>
<rect x="545.10" y="446.60" width="1.2" height="6.0"/>
<path d="M419.30,283.40 V280.40 H549.80 V283.40" fill="none" stroke="#000" stroke-width="1.3"/>
<g id="t55">
<text transform="translate(470.98,278.57) rotate(0.05) scale(0.9157,1.0000)" font-size="7.75" font-weight="normal" stroke="#000" stroke-width="0.3">P&lt; 0.0001</text>
</g>
<path d="M419.30,303.70 V300.80 H503.30 V303.70" fill="none" stroke="#000" stroke-width="1.3"/>
<g id="t56">
<text transform="translate(441.49,299.76) rotate(0.05) scale(0.8088,1.0000)" font-size="8.59" font-weight="normal" stroke="#000" stroke-width="0.3">P&lt; 0.001</text>
</g>
<path d="M504.40,303.70 V300.80 H549.00 V303.70" fill="none" stroke="#000" stroke-width="1.3"/>
<g id="t57">
<text transform="translate(509.60,299.57) rotate(0.05) scale(0.8347,1.0000)" font-size="8.31" font-weight="normal" stroke="#000" stroke-width="0.3">P&lt; 0.0001</text>
</g>
<path d="M468.80,322.70 V319.30 H551.50 V322.70" fill="none" stroke="#000" stroke-width="1.3"/>
<g id="t58">
<text transform="translate(494.06,317.56) rotate(0.05) scale(0.8190,1.0000)" font-size="9.01" font-weight="normal" stroke="#000" stroke-width="0.3">P=0.15</text>
</g>
<path d="M470.00,352.00 V349.40 H499.30 V352.00" fill="none" stroke="#000" stroke-width="1.3"/>
<g id="t59">
<text transform="translate(471.86,347.37) rotate(0.05) scale(0.8997,1.0000)" font-size="8.17" font-weight="normal" stroke="#000" stroke-width="0.3">P=0.45</text>
</g>
<path d="M419.90,359.10 V356.80 H468.80 V359.10" fill="none" stroke="#000" stroke-width="1.3"/>
<g id="t60">
<text transform="translate(426.89,355.37) rotate(0.05) scale(0.9012,1.0000)" font-size="7.75" font-weight="normal" stroke="#000" stroke-width="0.3">P&lt; 0.0001</text>
</g>
<ellipse cx="427.5" cy="311.8" rx="2.25" ry="2.6"/>
<ellipse cx="427.7" cy="373.6" rx="2.25" ry="2.6"/>
<ellipse cx="421.2" cy="394.7" rx="2.25" ry="2.6"/>
<ellipse cx="433.9" cy="395.1" rx="2.25" ry="2.6"/>
<ellipse cx="427.8" cy="398.7" rx="2.25" ry="2.6"/>
<ellipse cx="421.2" cy="405.9" rx="2.25" ry="2.6"/>
<ellipse cx="424.5" cy="412.4" rx="2.25" ry="2.6"/>
<ellipse cx="430.7" cy="411.6" rx="2.25" ry="2.6"/>
<ellipse cx="433.9" cy="409.5" rx="2.25" ry="2.6"/>
<ellipse cx="419.0" cy="416.4" rx="2.25" ry="2.6"/>
<ellipse cx="422.7" cy="417.0" rx="2.25" ry="2.6"/>
<ellipse cx="426.3" cy="417.3" rx="2.25" ry="2.6"/>
<ellipse cx="429.9" cy="417.0" rx="2.25" ry="2.6"/>
<ellipse cx="433.5" cy="416.6" rx="2.25" ry="2.6"/>
<ellipse cx="436.5" cy="416.0" rx="2.25" ry="2.6"/>
<ellipse cx="420.5" cy="417.5" rx="2.25" ry="2.6"/>
<ellipse cx="424.0" cy="417.8" rx="2.25" ry="2.6"/>
<ellipse cx="427.5" cy="418.0" rx="2.25" ry="2.6"/>
<ellipse cx="431.0" cy="417.8" rx="2.25" ry="2.6"/>
<ellipse cx="434.5" cy="417.4" rx="2.25" ry="2.6"/>
<line x1="414.60" y1="401.10" x2="440.70" y2="401.10" stroke="#000" stroke-width="1.5" stroke-linecap="butt"/>
<rect x="461.4" y="369.5" width="4.3" height="5.0"/>
<rect x="468.0" y="369.8" width="4.3" height="5.0"/>
<rect x="458.1" y="374.5" width="4.3" height="5.0"/>
<rect x="453.2" y="378.3" width="4.3" height="5.0"/>
<rect x="464.7" y="377.7" width="4.3" height="5.0"/>
<rect x="470.7" y="377.4" width="4.3" height="5.0"/>
<rect x="475.6" y="379.9" width="4.3" height="5.0"/>
<rect x="457.0" y="382.1" width="4.3" height="5.0"/>
<rect x="462.5" y="384.9" width="4.3" height="5.0"/>
<rect x="468.0" y="385.4" width="4.3" height="5.0"/>
<rect x="472.9" y="383.2" width="4.3" height="5.0"/>
<rect x="455.4" y="393.1" width="4.3" height="5.0"/>
<rect x="474.6" y="393.1" width="4.3" height="5.0"/>
<rect x="461.4" y="399.1" width="4.3" height="5.0"/>
<rect x="468.0" y="398.0" width="4.3" height="5.0"/>
<rect x="465.4" y="385.3" width="4.3" height="5.0"/>
<line x1="453.70" y1="384.50" x2="479.40" y2="384.50" stroke="#000" stroke-width="1.4" stroke-linecap="butt"/>
<path d="M506.4,322.1 L508.7,327.3 L504.1,327.3Z"/>
<path d="M502.5,346.5 L504.8,351.7 L500.2,351.7Z"/>
<path d="M509.5,351.1 L511.8,356.3 L507.2,356.3Z"/>
<path d="M499.9,369.8 L502.2,375.0 L497.6,375.0Z"/>
<path d="M506.0,370.7 L508.3,375.9 L503.7,375.9Z"/>
<path d="M515.6,371.0 L517.9,376.2 L513.3,376.2Z"/>
<path d="M496.4,379.1 L498.7,384.3 L494.1,384.3Z"/>
<path d="M506.0,379.8 L508.3,385.0 L503.7,385.0Z"/>
<path d="M512.7,377.7 L515.0,382.9 L510.4,382.9Z"/>
<path d="M499.9,386.1 L502.2,391.3 L497.6,391.3Z"/>
<path d="M506.0,389.6 L508.3,394.8 L503.7,394.8Z"/>
<path d="M512.7,387.8 L515.0,393.0 L510.4,393.0Z"/>
<path d="M502.5,395.5 L504.8,400.7 L500.2,400.7Z"/>
<path d="M509.5,398.7 L511.8,403.9 L507.2,403.9Z"/>
<path d="M506.0,409.2 L508.3,414.4 L503.7,414.4Z"/>
<line x1="492.90" y1="377.60" x2="519.10" y2="377.60" stroke="#000" stroke-width="1.4" stroke-linecap="butt"/>
<path d="M545.2,351.9 L547.5,346.7 L542.9,346.7Z"/>
<path d="M545.2,367.4 L547.5,362.2 L542.9,362.2Z"/>
<path d="M549.1,376.9 L551.4,371.7 L546.8,371.7Z"/>
<path d="M542.2,380.2 L544.5,375.0 L539.9,375.0Z"/>
<path d="M540.1,391.1 L542.4,385.9 L537.8,385.9Z"/>
<path d="M544.7,391.1 L547.0,385.9 L542.4,385.9Z"/>
<path d="M550.7,391.1 L553.0,385.9 L548.4,385.9Z"/>
<path d="M536.5,396.7 L538.8,391.5 L534.2,391.5Z"/>
<path d="M540.8,397.0 L543.1,391.8 L538.5,391.8Z"/>
<path d="M547.0,396.7 L549.3,391.5 L544.7,391.5Z"/>
<path d="M553.9,396.4 L556.2,391.2 L551.6,391.2Z"/>
<path d="M539.5,399.0 L541.8,393.8 L537.2,393.8Z"/>
<path d="M545.4,399.3 L547.7,394.1 L543.1,394.1Z"/>
<path d="M550.7,398.0 L553.0,392.8 L548.4,392.8Z"/>
<path d="M543.4,403.0 L545.7,397.8 L541.1,397.8Z"/>
<line x1="532.10" y1="386.80" x2="558.90" y2="386.80" stroke="#000" stroke-width="1.4" stroke-linecap="butt"/>
</svg>
</body></html>
